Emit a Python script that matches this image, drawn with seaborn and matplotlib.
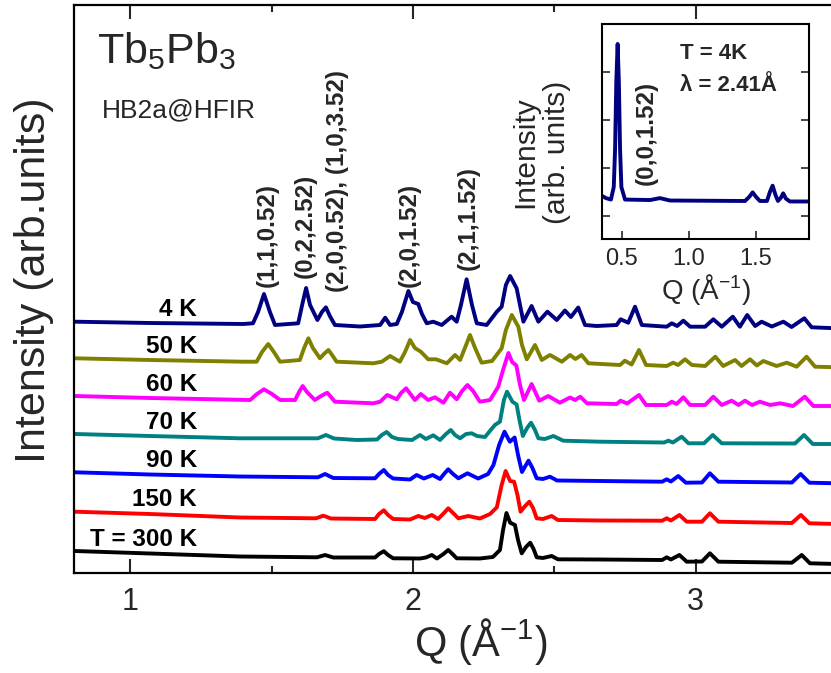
import matplotlib
matplotlib.use("Agg")
import matplotlib.pyplot as plt
from matplotlib.ticker import MultipleLocator, NullLocator
import numpy as np
import seaborn as sns

sns.set_theme(style="ticks")
plt.rcParams["font.family"] = ["Liberation Sans", "DejaVu Sans"]
plt.rcParams["mathtext.fontset"] = "custom"
plt.rcParams["mathtext.rm"] = "Liberation Sans"
plt.rcParams["mathtext.it"] = "Liberation Sans:italic"
plt.rcParams["mathtext.bf"] = "Liberation Sans:bold"

# ---- powder patterns, (Q [1/A], intensity [arb. units]) ----
pattern_4k = [
    (0.804, 21.3), (1.070, 20.0), (1.399, 19.0), (1.434, 19.7), (1.452, 31.0), (1.473, 49.0),
    (1.494, 31.0), (1.512, 18.0), (1.594, 19.7), (1.608, 38.0), (1.622, 55.0), (1.636, 38.0),
    (1.662, 23.0), (1.678, 31.0), (1.692, 35.7), (1.706, 27.0), (1.724, 18.0), (1.813, 16.5),
    (1.884, 18.0), (1.902, 25.3), (1.919, 18.0), (1.943, 19.0), (1.961, 31.0), (1.984, 52.0),
    (2.000, 41.0), (2.019, 39.0), (2.032, 29.0), (2.049, 19.7), (2.072, 21.3), (2.102, 18.0),
    (2.137, 26.3), (2.155, 21.3), (2.170, 38.0), (2.190, 63.7), (2.209, 38.0), (2.226, 19.7),
    (2.261, 18.0), (2.297, 31.3), (2.314, 36.3), (2.329, 58.0), (2.344, 67.0), (2.367, 54.7),
    (2.379, 38.0), (2.391, 21.3), (2.420, 37.0), (2.444, 21.3), (2.476, 31.3), (2.509, 23.0),
    (2.538, 32.5), (2.559, 26.0), (2.585, 35.5), (2.609, 18.0), (2.650, 17.0), (2.721, 18.0),
    (2.735, 23.7), (2.762, 20.3), (2.786, 36.3), (2.810, 18.0), (2.898, 16.3), (2.916, 19.7),
    (2.935, 17.0), (2.957, 22.3), (2.981, 16.3), (3.034, 16.3), (3.063, 23.7), (3.093, 16.3),
    (3.132, 26.3), (3.157, 16.3), (3.183, 28.0), (3.211, 17.0), (3.234, 21.3), (3.270, 16.5),
    (3.311, 21.3), (3.340, 16.0), (3.385, 24.7), (3.411, 15.7), (3.501, 14.7),
]

pattern_50k = [
    (0.804, 21.7), (1.070, 20.0), (1.399, 18.3), (1.447, 18.3), (1.466, 28.0), (1.488, 36.0),
    (1.508, 28.0), (1.530, 18.3), (1.600, 20.0), (1.615, 32.0), (1.630, 41.7), (1.646, 32.0),
    (1.671, 21.7), (1.685, 26.0), (1.701, 30.0), (1.714, 25.0), (1.730, 18.3), (1.860, 16.7),
    (1.890, 18.3), (1.919, 24.0), (1.954, 18.3), (1.972, 28.0), (1.990, 40.0), (2.007, 32.0),
    (2.028, 28.3), (2.054, 20.7), (2.082, 20.7), (2.120, 16.7), (2.149, 25.0), (2.167, 20.0),
    (2.184, 32.0), (2.202, 45.0), (2.220, 32.0), (2.243, 17.3), (2.280, 19.0), (2.314, 31.7),
    (2.329, 50.0), (2.350, 65.0), (2.373, 53.3), (2.386, 35.0), (2.403, 20.7), (2.432, 35.0),
    (2.456, 20.0), (2.485, 25.0), (2.527, 18.3), (2.556, 25.0), (2.575, 21.0), (2.597, 25.0),
    (2.621, 16.7), (2.733, 15.0), (2.750, 19.3), (2.774, 15.5), (2.800, 30.0), (2.825, 15.0),
    (2.898, 14.0), (2.921, 17.3), (2.938, 15.0), (2.963, 20.7), (2.987, 15.0), (3.034, 14.0),
    (3.070, 23.3), (3.098, 14.0), (3.140, 20.0), (3.163, 14.0), (3.193, 20.7), (3.217, 14.5),
    (3.240, 19.0), (3.287, 14.0), (3.323, 17.3), (3.358, 13.3), (3.393, 23.3), (3.423, 13.3),
    (3.501, 12.7),
]

pattern_60k = [
    (0.804, 22.0), (1.070, 20.0), (1.424, 18.0), (1.448, 24.0), (1.473, 28.7), (1.501, 24.0),
    (1.530, 18.0), (1.583, 18.0), (1.597, 26.0), (1.610, 32.0), (1.625, 26.0), (1.653, 18.0),
    (1.675, 22.0), (1.697, 25.3), (1.724, 16.3), (1.860, 14.7), (1.884, 16.3), (1.909, 23.0),
    (1.943, 18.7), (1.958, 25.0), (1.976, 29.7), (2.007, 18.0), (2.028, 24.0), (2.054, 18.0),
    (2.078, 20.7), (2.108, 15.3), (2.131, 25.3), (2.155, 18.7), (2.174, 27.0), (2.193, 33.0),
    (2.213, 27.0), (2.237, 16.3), (2.273, 18.0), (2.302, 31.3), (2.319, 48.0), (2.338, 65.0),
    (2.351, 56.0), (2.366, 52.5), (2.379, 33.0), (2.393, 18.0), (2.420, 34.0), (2.447, 17.3),
    (2.479, 22.0), (2.520, 15.3), (2.556, 20.5), (2.574, 18.0), (2.592, 21.3), (2.616, 14.7),
    (2.721, 14.0), (2.735, 17.3), (2.758, 14.5), (2.800, 23.0), (2.825, 13.0), (2.898, 13.0),
    (2.916, 16.3), (2.933, 14.0), (2.957, 20.7), (2.981, 13.0), (3.034, 13.0), (3.063, 21.3),
    (3.093, 13.0), (3.128, 17.3), (3.152, 13.0), (3.175, 17.3), (3.200, 13.0), (3.228, 16.3),
    (3.264, 13.0), (3.299, 14.7), (3.345, 12.0), (3.387, 21.3), (3.417, 12.0), (3.501, 12.0),
]

pattern_70k = [
    (0.804, 22.0), (1.070, 20.0), (1.388, 17.7), (1.664, 17.7), (1.692, 21.0), (1.721, 17.5),
    (1.801, 16.0), (1.873, 16.5), (1.890, 21.0), (1.907, 24.0), (1.926, 19.0), (1.947, 17.0),
    (1.997, 16.0), (2.025, 21.0), (2.046, 17.0), (2.072, 20.7), (2.096, 16.0), (2.117, 22.0),
    (2.134, 26.0), (2.149, 21.0), (2.167, 17.7), (2.188, 22.0), (2.208, 22.7), (2.227, 20.0),
    (2.255, 19.0), (2.290, 31.0), (2.308, 34.3), (2.322, 56.0), (2.333, 64.3), (2.352, 54.3),
    (2.367, 51.5), (2.377, 36.0), (2.389, 20.0), (2.404, 28.0), (2.418, 33.3), (2.432, 26.0),
    (2.444, 17.7), (2.467, 17.0), (2.497, 20.0), (2.532, 15.3), (2.662, 14.3), (2.889, 13.5),
    (2.904, 15.3), (2.920, 13.5), (2.951, 19.3), (2.975, 12.7), (3.030, 12.7), (3.061, 21.0),
    (3.093, 12.7), (3.352, 12.5), (3.384, 21.0), (3.415, 12.0), (3.501, 12.0),
]

pattern_90k = [
    (0.804, 21.7), (1.070, 19.5), (1.388, 17.5), (1.664, 16.7), (1.689, 20.0), (1.718, 16.0),
    (1.866, 15.7), (1.880, 20.0), (1.897, 24.0), (1.912, 19.0), (1.930, 15.5), (1.990, 14.5),
    (2.013, 19.0), (2.039, 15.5), (2.070, 19.0), (2.096, 15.0), (2.110, 20.0), (2.125, 24.7),
    (2.142, 20.0), (2.161, 15.7), (2.193, 20.7), (2.231, 15.5), (2.266, 20.0), (2.285, 29.0),
    (2.305, 49.0), (2.324, 62.3), (2.343, 52.3), (2.360, 56.5), (2.372, 39.0), (2.386, 22.0),
    (2.398, 28.0), (2.409, 33.3), (2.423, 26.0), (2.438, 15.7), (2.460, 15.0), (2.485, 17.3),
    (2.510, 13.5), (2.662, 13.0), (2.882, 12.3), (2.898, 14.7), (2.913, 12.5), (2.939, 18.0),
    (2.966, 11.3), (3.023, 11.5), (3.051, 20.7), (3.081, 12.3), (3.341, 11.5), (3.372, 20.0),
    (3.403, 11.3), (3.501, 10.7),
]

pattern_150k = [
    (0.804, 21.3), (1.070, 19.0), (1.388, 15.5), (1.657, 14.7), (1.683, 17.3), (1.710, 14.5),
    (1.866, 14.0), (1.880, 19.0), (1.897, 22.7), (1.912, 18.0), (1.930, 14.0), (1.990, 13.5),
    (2.019, 17.0), (2.042, 15.0), (2.067, 18.0), (2.089, 14.0), (2.110, 20.0), (2.125, 24.7),
    (2.142, 20.0), (2.161, 14.7), (2.196, 17.0), (2.237, 14.5), (2.273, 19.0), (2.297, 25.7),
    (2.314, 48.0), (2.328, 62.0), (2.344, 52.0), (2.358, 51.3), (2.370, 38.0), (2.381, 21.3),
    (2.397, 27.0), (2.412, 31.3), (2.425, 25.0), (2.438, 14.7), (2.460, 14.0), (2.491, 17.0),
    (2.513, 13.0), (2.662, 12.5), (2.882, 12.3), (2.898, 14.7), (2.913, 12.5), (2.943, 18.0),
    (2.969, 11.3), (3.023, 11.3), (3.051, 19.7), (3.081, 11.3), (3.341, 10.0), (3.373, 18.0),
    (3.403, 9.7), (3.501, 9.0),
]

pattern_300k = [
    (0.804, 22.0), (1.070, 19.5), (1.388, 16.5), (1.661, 15.7), (1.689, 18.0), (1.718, 15.5),
    (1.866, 15.5), (1.880, 19.0), (1.897, 21.8), (1.912, 18.0), (1.930, 14.7), (2.025, 14.5),
    (2.046, 15.5), (2.067, 18.0), (2.085, 14.5), (2.108, 19.0), (2.125, 23.0), (2.140, 19.0),
    (2.155, 14.7), (2.237, 14.5), (2.283, 16.0), (2.308, 23.0), (2.319, 43.0), (2.331, 60.0),
    (2.344, 50.3), (2.361, 48.0), (2.372, 33.0), (2.385, 19.7), (2.400, 26.0), (2.415, 30.3),
    (2.427, 24.0), (2.438, 15.7), (2.460, 15.0), (2.491, 17.0), (2.513, 13.7), (2.662, 13.5),
    (2.882, 13.0), (2.898, 15.7), (2.913, 13.5), (2.943, 18.0), (2.969, 11.3), (3.023, 11.5),
    (3.051, 19.7), (3.081, 11.3), (3.341, 10.3), (3.376, 18.0), (3.405, 9.7), (3.501, 9.0),
]

# low-Q pattern at 4 K (inset)
pattern_4k_lowq = [
    (0.350, 0.42), (0.382, 0.37), (0.419, 0.34), (0.440, 0.60), (0.450, 1.40), (0.459, 2.80),
    (0.469, 3.59), (0.478, 2.80), (0.487, 1.40), (0.497, 0.60), (0.524, 0.34), (0.711, 0.33),
    (0.785, 0.37), (0.860, 0.32), (1.420, 0.31), (1.453, 0.40), (1.477, 0.49), (1.501, 0.40),
    (1.531, 0.31), (1.584, 0.31), (1.606, 0.50), (1.626, 0.63), (1.647, 0.44), (1.666, 0.31),
    (1.688, 0.38), (1.705, 0.47), (1.725, 0.36), (1.755, 0.30), (1.900, 0.30),
]

temperatures = ["4 K", "50 K", "60 K", "70 K", "90 K", "150 K", "T = 300 K"]
patterns = [pattern_4k, pattern_50k, pattern_60k, pattern_70k, pattern_90k,
            pattern_150k, pattern_300k]
colors = ["#000080", "#808000", "#ff00ff", "#008080", "#0000ff", "#ff0000", "#000000"]
offsets = [230, 193, 155, 117, 79, 40, 0]

# magnetic reflections: (label, Q, height of label foot)
reflections = [
    ("(1,1,0.52)", 1.483, 286),
    ("(0,2,2.52)", 1.618, 295),
    ("(2,0,0.52), (1,0,3.52)", 1.733, 281),
    ("(2,0,1.52)", 1.986, 286),
    ("(2,1,1.52)", 2.195, 303),
]

W, H = 831, 673
fig = plt.figure(figsize=(W / 100, H / 100), dpi=100)
ax = fig.add_axes([73.8 / W, 1 - 573 / H, 763 / W, 568 / H])

for temp, pat, col, off in zip(temperatures, patterns, colors, offsets):
    q = np.array([p[0] for p in pat])
    inten = np.array([p[1] for p in pat])
    sns.lineplot(x=q, y=inten + off, color=col, lw=2.8, ax=ax, sort=False,
                 legend=False, solid_joinstyle="round", solid_capstyle="round")
    ax.text(1.236, off + 33.5, temp, ha="right", va="center", fontsize=17.5,
            fontweight="bold", color="black")

for lab, q, yb in reflections:
    ax.text(q, yb, lab, rotation=90, ha="center", va="bottom", fontsize=17.5,
            fontweight="bold")

ax.set_xlim(0.8, 3.5)
ax.set_ylim(0, 568)
ax.xaxis.set_major_locator(MultipleLocator(1))
ax.xaxis.set_minor_locator(MultipleLocator(0.5))
ax.yaxis.set_major_locator(NullLocator())
ax.tick_params(axis="x", which="both", direction="in", top=True, bottom=True,
               labelsize=22, width=1.5, pad=10)
ax.tick_params(axis="x", which="major", length=10)
ax.tick_params(axis="x", which="minor", length=5)
for s in ax.spines.values():
    s.set_linewidth(1.6)
    s.set_color("black")

ax.set_xlabel("Q (Å$^{-1}$)", fontsize=30)
ax.xaxis.set_label_coords(0.534, -0.075)
ax.set_ylabel("Intensity (arb.units)", fontsize=31)
ax.yaxis.set_label_coords(-0.026, 0.516)

ax.text(0.030, 0.898, "Tb$_5$Pb$_3$", transform=ax.transAxes, fontsize=31,
        ha="left", va="baseline")
ax.text(0.0366, 0.803, "HB2a@HFIR", transform=ax.transAxes, fontsize=19,
        ha="left", va="baseline")

# inset: low-Q region at 4 K
axi = fig.add_axes([601.7 / W, 1 - 239.3 / H, 207.6 / W, 215 / H])
qi = np.array([p[0] for p in pattern_4k_lowq])
ii = np.array([p[1] for p in pattern_4k_lowq])
sns.lineplot(x=qi, y=ii, color="#000080", lw=2.8, ax=axi, sort=False, legend=False,
             solid_joinstyle="round")
axi.set_xlim(0.35, 1.9)
axi.set_ylim(-0.49, 4.0)
axi.set_xticks([0.5, 1.0, 1.5])
axi.set_xticklabels(["0.5", "1.0", "1.5"])
axi.set_yticks([0, 1, 2, 3])
axi.set_yticklabels([])
axi.tick_params(axis="x", direction="in", length=6, width=1.2, labelsize=17, pad=6)
axi.tick_params(axis="y", direction="in", length=6, width=1.2, left=True, right=True)
for s in axi.spines.values():
    s.set_linewidth(1.5)
    s.set_color("black")
axi.set_xlabel("Q (Å$^{-1}$)", fontsize=20, labelpad=2)
axi.set_ylabel("Intensity\n(arb. units)", fontsize=21.5, linespacing=1.15)
axi.yaxis.set_label_coords(-0.15, 0.406)
axi.text(0.686, 0.647, "(0,0,1.52)", rotation=90, ha="center", va="bottom",
         fontsize=17.5, fontweight="bold")
axi.text(0.377, 0.862, "T = 4K", transform=axi.transAxes, ha="left", va="center",
         fontsize=16, fontweight="bold")
axi.text(0.377, 0.717, "λ = 2.41Å", transform=axi.transAxes, ha="left", va="center",
         fontsize=16, fontweight="bold")

fig.savefig("out.png", dpi=100)
